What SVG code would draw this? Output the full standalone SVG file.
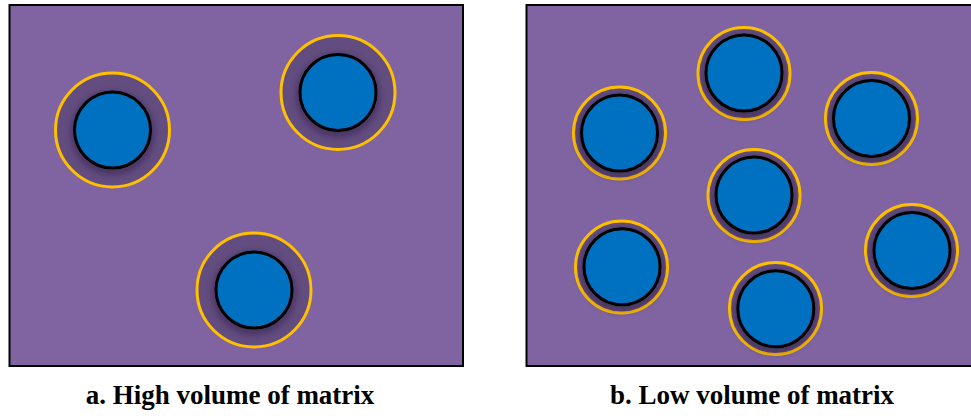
<svg xmlns="http://www.w3.org/2000/svg" width="971" height="416" viewBox="0 0 971 416">
<defs>
<filter id="sh" x="-50%" y="-50%" width="200%" height="200%">
<feDropShadow dx="0" dy="3" stdDeviation="4" flood-color="#1e0f33" flood-opacity="0.6"/>
</filter>
</defs>
<style>
.panel{fill:#8064A2;stroke:#000;stroke-width:2}
.ring{fill:#634d80;stroke:#FFC000;stroke-width:3}
.core{fill:#0070C0;stroke:#000;stroke-width:3;filter:url(#sh)}
.cap{font-family:"Liberation Serif",serif;font-weight:bold;font-size:27px;text-anchor:middle;fill:#000}
</style>
<g id="panel-a">
<rect class="panel" x="9.5" y="5" width="453.5" height="361"/>
</g>
<g id="panel-b">
<rect class="panel" x="526.5" y="5" width="450" height="361"/>
</g>
<g id="a1"><circle class="ring" cx="112.5" cy="130" r="57"/><circle class="core" cx="112.5" cy="130" r="38"/></g>
<g id="a2"><circle class="ring" cx="338" cy="92.5" r="57"/><circle class="core" cx="338" cy="92.5" r="38"/></g>
<g id="a3"><circle class="ring" cx="254" cy="290" r="57"/><circle class="core" cx="254" cy="290" r="38"/></g>
<g id="b1"><circle class="ring" cx="744" cy="73.5" r="46"/><circle class="core" cx="744" cy="73" r="38"/></g>
<g id="b2"><circle class="ring" cx="619.5" cy="133" r="46"/><circle class="core" cx="619.5" cy="133" r="38"/></g>
<g id="b3"><circle class="ring" cx="871.5" cy="118.5" r="46"/><circle class="core" cx="871.5" cy="118.5" r="38"/></g>
<g id="b4"><circle class="ring" cx="754" cy="195.5" r="46"/><circle class="core" cx="754" cy="195" r="38"/></g>
<g id="b5"><circle class="ring" cx="621.5" cy="267" r="46"/><circle class="core" cx="622" cy="266.8" r="38"/></g>
<g id="b6"><circle class="ring" cx="911.5" cy="250.5" r="46"/><circle class="core" cx="912" cy="250.5" r="38"/></g>
<g id="b7"><circle class="ring" cx="775.5" cy="308.5" r="46"/><circle class="core" cx="775.8" cy="308.8" r="38"/></g>
<text class="cap" x="230" y="404">a. High volume of matrix</text>
<text class="cap" x="752" y="404">b. Low volume of matrix</text>
</svg>
